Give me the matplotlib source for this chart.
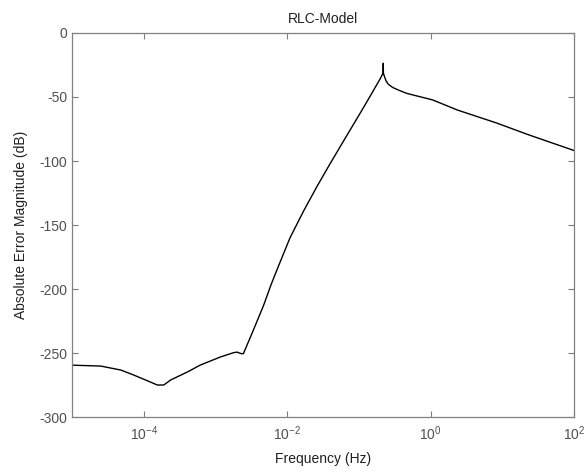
import matplotlib
matplotlib.use("Agg")
import matplotlib.pyplot as plt
import numpy as np

plt.rcParams['font.family'] = ['Liberation Sans', 'DejaVu Sans']
plt.rcParams['mathtext.fontset'] = 'custom'
plt.rcParams['mathtext.rm'] = 'Liberation Sans'
plt.rcParams['mathtext.it'] = 'Liberation Sans'
plt.rcParams['axes.unicode_minus'] = False

# Data (log10 frequency, dB)
log_freq = [-5.0, -4.60, -4.32, -4.14, -3.94, -3.81, -3.72, -3.625, -3.39, -3.21,
            -2.93, -2.75, -2.70, -2.64, -2.61, -2.47, -2.33, -2.22, -2.12, -1.96,
            -1.77, -1.59, -1.40, -1.22, -0.94, -0.80, -0.70, -0.662, -0.660, -0.658,
            -0.64, -0.62, -0.59, -0.53, -0.43, -0.33, 0.03, 0.375, 0.92, 1.375, 2.0]
err_db = [-259.5, -260.2, -263.3, -267.2, -271.9, -275.0, -275.0, -271.1, -264.8, -259.4,
          -253.1, -249.8, -249.3, -250.5, -250.5, -232.0, -213.0, -196.0, -182.0, -160.0,
          -139.0, -120.5, -102.0, -85.0, -58.7, -45.2, -35.5, -31.3, -23.6, -31.3,
          -34.5, -37.5, -40.0, -42.5, -45.0, -47.2, -52.3, -60.2, -70.3, -79.7, -91.8]

xtick_vals = [1e-4, 1e-2, 1e0, 1e2]
xtick_labels = [r'$10^{-4}$', r'$10^{-2}$', r'$10^{0}$', r'$10^{2}$']
ytick_vals = [0, -50, -100, -150, -200, -250, -300]

freq = np.power(10.0, log_freq)

fig = plt.figure(figsize=(5.84, 4.73), dpi=100)
ax = fig.add_axes([72/584, 56/473, 502/584, 384/473])
ax.plot(freq, err_db, color='black', linewidth=1.0)
ax.set_xscale('log')
ax.set_xlim(1e-5, 1e2)
ax.set_ylim(-300, 0)
ax.set_xticks(xtick_vals)
ax.set_xticklabels(xtick_labels)
ax.set_yticks(ytick_vals)
ax.minorticks_off()
ax.tick_params(direction='in', length=4, width=0.8, colors='#808080',
               labelcolor='#505050', labelsize=10, top=True, right=True)
ax.tick_params(axis='x', pad=5.5)
for s in ax.spines.values():
    s.set_color('#808080')
    s.set_linewidth(0.9)
ax.set_xlabel('Frequency (Hz)', fontsize=10, color='#202020', labelpad=6)
ax.set_ylabel('Absolute Error Magnitude (dB)', fontsize=10, color='#202020', labelpad=8)
ax.set_title('RLC-Model', fontsize=10, color='#202020', pad=7)

fig.savefig('out.png', dpi=100)
